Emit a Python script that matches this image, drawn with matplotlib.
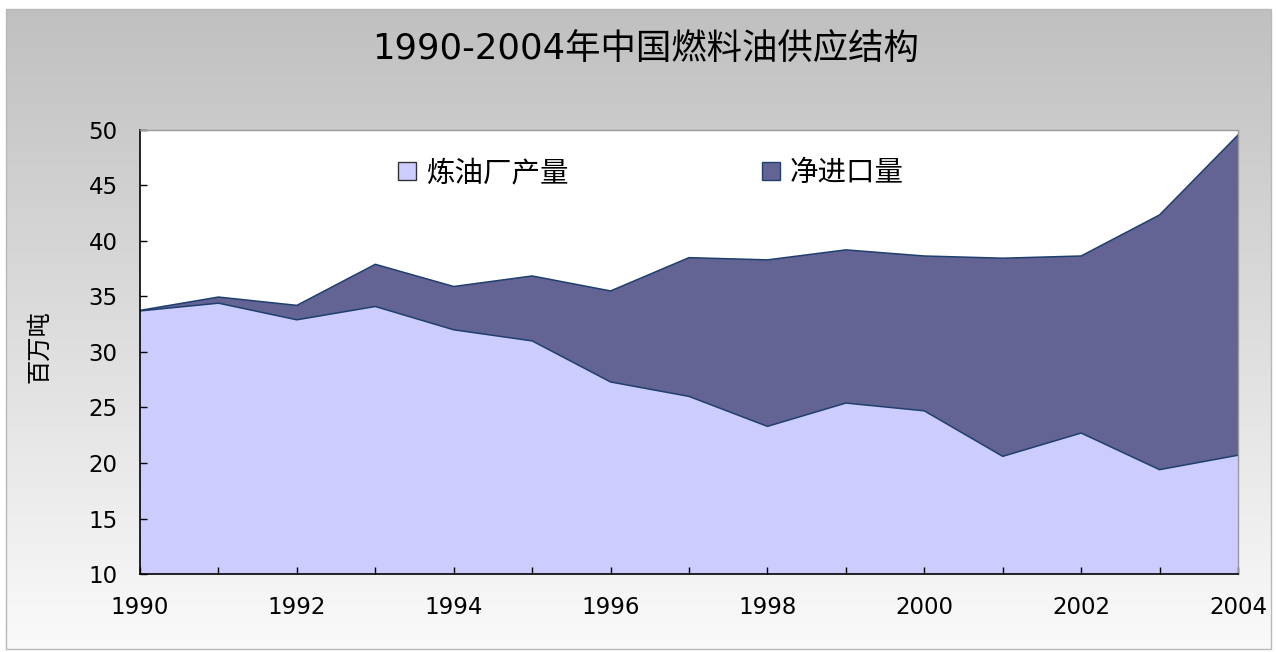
import matplotlib
matplotlib.use("Agg")
import matplotlib.pyplot as plt
import numpy as np
from matplotlib.patches import Rectangle

plt.rcParams['font.family'] = ['DejaVu Sans', 'Noto Sans CJK SC']

# ---- data ----
years = [1990, 1991, 1992, 1993, 1994, 1995, 1996, 1997,
         1998, 1999, 2000, 2001, 2002, 2003, 2004]
refinery = [33.7, 34.4, 32.9, 34.1, 32.0, 31.0, 27.3, 26.0,
            23.3, 25.4, 24.7, 20.6, 22.7, 19.4, 20.7]
net_imports = [0.05, 0.55, 1.3, 3.8, 3.9, 5.85, 8.2, 12.5,
               15.0, 13.8, 13.95, 17.85, 15.95, 22.95, 28.85]
series_names = ['炼油厂产量', '净进口量']
title = '1990-2004年中国燃料油供应结构'
ylabel = '百万吨'
y_ticks = [10, 15, 20, 25, 30, 35, 40, 45, 50]
x_label_years = [1990, 1992, 1994, 1996, 1998, 2000, 2002, 2004]

W, H = 1276, 652
fig = plt.figure(figsize=(W / 100, H / 100), dpi=100)
fig.patch.set_facecolor('white')

# ---- background panel with vertical gradient ----
bg = fig.add_axes([0, 0, 1, 1], zorder=0)
bg.set_xlim(0, W)
bg.set_ylim(H, 0)
bg.axis('off')
grad = np.linspace(0, 1, 256).reshape(-1, 1)
top_c = np.array([192, 192, 192]) / 255
bot_c = np.array([250, 250, 250]) / 255
img = top_c[None, None, :] * (1 - grad[..., None]) + bot_c[None, None, :] * grad[..., None]
img = np.repeat(img, 2, axis=1)
bg.imshow(img, extent=[6, 1271, 649, 9], aspect='auto', interpolation='bilinear')
bg.add_patch(Rectangle((6, 9), 1265, 640, fill=False, ec='#b8b8b8', lw=1))

# ---- main axes ----
L, R, T, B = 140, 1238, 130, 574
ax = fig.add_axes([L / W, 1 - B / H, (R - L) / W, (B - T) / H], zorder=2)
ax.set_facecolor('white')

total = np.array(refinery) + np.array(net_imports)
line_c = '#1F3F6F'
ax.fill_between(years, 0, refinery, facecolor='#CCCCFF', lw=0)
ax.fill_between(years, refinery, total, facecolor='#636394', lw=0)
ax.plot(years, refinery, color=line_c, lw=1.1)
ax.plot(years, total, color=line_c, lw=1.1)

ax.set_xlim(1990, 2004)
ax.set_ylim(10, 50)
ax.set_yticks(y_ticks)
ax.set_xticks(x_label_years)
ax.set_xticks(years, minor=True)
ax.set_xticklabels([str(y) for y in x_label_years])
ax.tick_params(axis='both', which='both', direction='in', length=5, width=1,
               color='black', labelsize=16.5, labelcolor='black')
ax.tick_params(axis='y', pad=16)
ax.tick_params(axis='x', pad=16)
for s in ['left', 'bottom']:
    ax.spines[s].set_color('black')
    ax.spines[s].set_linewidth(1.2)
for s in ['top', 'right']:
    ax.spines[s].set_color('#999999')
    ax.spines[s].set_linewidth(1)

ax.set_ylabel(ylabel, fontsize=17.5, family=['Noto Sans CJK SC'], style='italic')
ax.yaxis.set_label_coords((52 - L) / (R - L), (B - 347) / (B - T))

# ---- title ----
fig.text(646 / W, 1 - 60 / H, title, ha='center', va='baseline', fontsize=25.5,
         color='black', zorder=3)

# ---- legend ----
handles = [Rectangle((0, 0), 1, 1, fc='#CCCCFF', ec='#333333', lw=1),
           Rectangle((0, 0), 1, 1, fc='#636394', ec=line_c, lw=1)]
leg = ax.legend(handles, series_names, ncol=2, loc='center left',
                bbox_to_anchor=(398 / W, 1 - 173 / H), bbox_transform=fig.transFigure,
                frameon=False, handlelength=0.62, handleheight=0.62,
                handletextpad=0.36, columnspacing=6.8, borderpad=0, borderaxespad=0,
                prop={'family': ['Noto Sans CJK SC'], 'size': 20.5})

fig.savefig('out.png', dpi=100, facecolor='white')
